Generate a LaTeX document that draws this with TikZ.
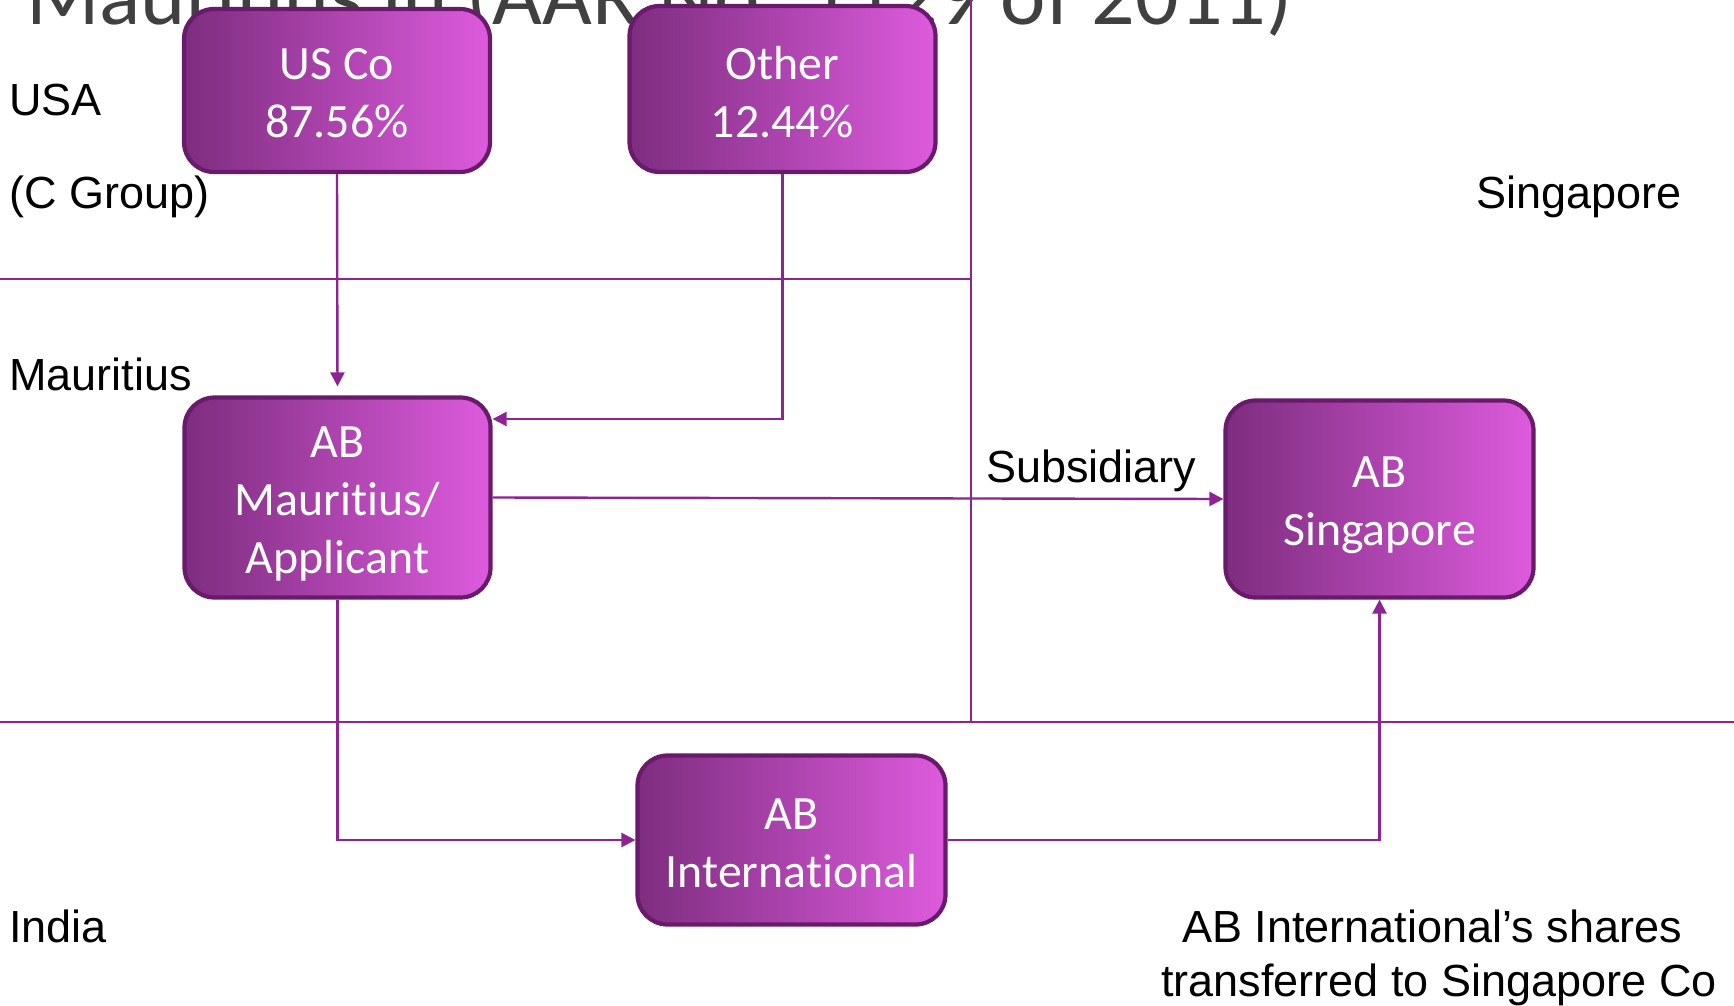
\documentclass[tikz,border=0pt]{standalone}
\usepackage{fontspec}
\setmainfont{Liberation Sans}
\newfontfamily\calfont[Ligatures=NoCommon]{Carlito}
\usetikzlibrary{arrows.meta}
\definecolor{boxL}{RGB}{125,45,127}
\definecolor{boxR}{RGB}{221,91,221}
\definecolor{boxB}{RGB}{106,26,106}
\definecolor{conn}{RGB}{142,36,148}
\definecolor{titlegray}{RGB}{64,64,64}
\begin{document}
\begin{tikzpicture}[x=1pt,y=-1pt,
  entity/.style={draw=boxB, line width=4.2pt, rounded corners=30pt,
    left color=boxL, right color=boxR, inner sep=0pt},
  boxtext/.style={text=white, align=center, inner sep=0pt,
    font=\calfont\fontsize{47.8}{58}\selectfont},
  region/.style={draw=conn, line width=2pt},
  link/.style={draw=conn, line width=2.4pt},
  arr/.style={link, -{Triangle[length=14pt,width=14pt]}},
  lbl/.style={font=\fontsize{45}{54}\selectfont, text=black, inner sep=0pt}
]
\useasboundingbox (0,0) rectangle (1734,1006);
\clip (0,0) rectangle (1734,1006);
\fill[white] (0,0) rectangle (1734,1006);

% title (cut off at the top)
\node[anchor=base west, inner sep=0pt, text=titlegray,
  font=\calfont\fontsize{86}{100}\selectfont] (title) at (26,25)
  {Mauritius in (AAR No. 1129 of 2011)};

% region lines
\coordinate (r1a) at (0,279);
\coordinate (r1b) at (971,279);
\coordinate (v1a) at (971,0);
\coordinate (v1b) at (971,721);
\coordinate (r2a) at (0,722);
\coordinate (r2b) at (1734,722);
\draw[region] (r1a) -- (r1b);
\draw[region] (v1a) -- (v1b);
\draw[region] (r2a) -- (r2b);

% entities
\node[entity, minimum width=306pt, minimum height=163pt] (usco) at (337,90.5) {};
\node[entity, minimum width=306pt, minimum height=166pt] (other) at (782.5,89) {};
\node[entity, minimum width=306pt, minimum height=200pt] (abm) at (337.5,497.5) {};
\node[entity, minimum width=308pt, minimum height=197pt] (abs) at (1379.5,499) {};
\node[entity, minimum width=308pt, minimum height=169pt] (abi) at (791.5,840) {};

\node[boxtext] (uscot) at ([yshift=-3pt]usco.center) {US Co\\87.56\%};
\node[boxtext] (othert) at ([yshift=-3.5pt]other.center) {Other\\12.44\%};
\node[boxtext] (abmt) at ([yshift=-6.5pt]abm.center) {AB\\Mauritius/\\Applicant};
\node[boxtext] (abst) at ([yshift=-6.5pt]abs.center) {AB\\Singapore};
\node[boxtext] (abit) at ([yshift=-3pt]abi.center) {AB\\International};

% labels
\node[lbl, anchor=base west] (usa) at (9,116) {USA};
\node[lbl, anchor=base west] (cgroup) at (9,208) {(C Group)};
\node[lbl, anchor=base east] (sing) at (1682,208) {Singapore};
\node[lbl, anchor=base west] (maur) at (9,390) {Mauritius};
\node[lbl, anchor=base west] (india) at (9,942) {India};
\node[lbl, anchor=base west] (subs) at (986,482) {Subsidiary};
\node[lbl, anchor=base] (note1) at (1432,942) {AB International’s shares};
\node[lbl, anchor=base] (note2) at (1439,996) {transferred to Singapore Co};

% connectors
\coordinate (o1) at (782.5,419);
\draw[arr, shorten >=9pt] (usco.south) -- (abm.north);
\draw[arr] (other.south) -- (o1) -- (abm.east |- o1);
\draw[arr] (abm.east) -- (abs.west);
\draw[arr] (abm.south) |- (abi.west);
\draw[arr] (abi.east) -| (abs.south);
\end{tikzpicture}
\end{document}
